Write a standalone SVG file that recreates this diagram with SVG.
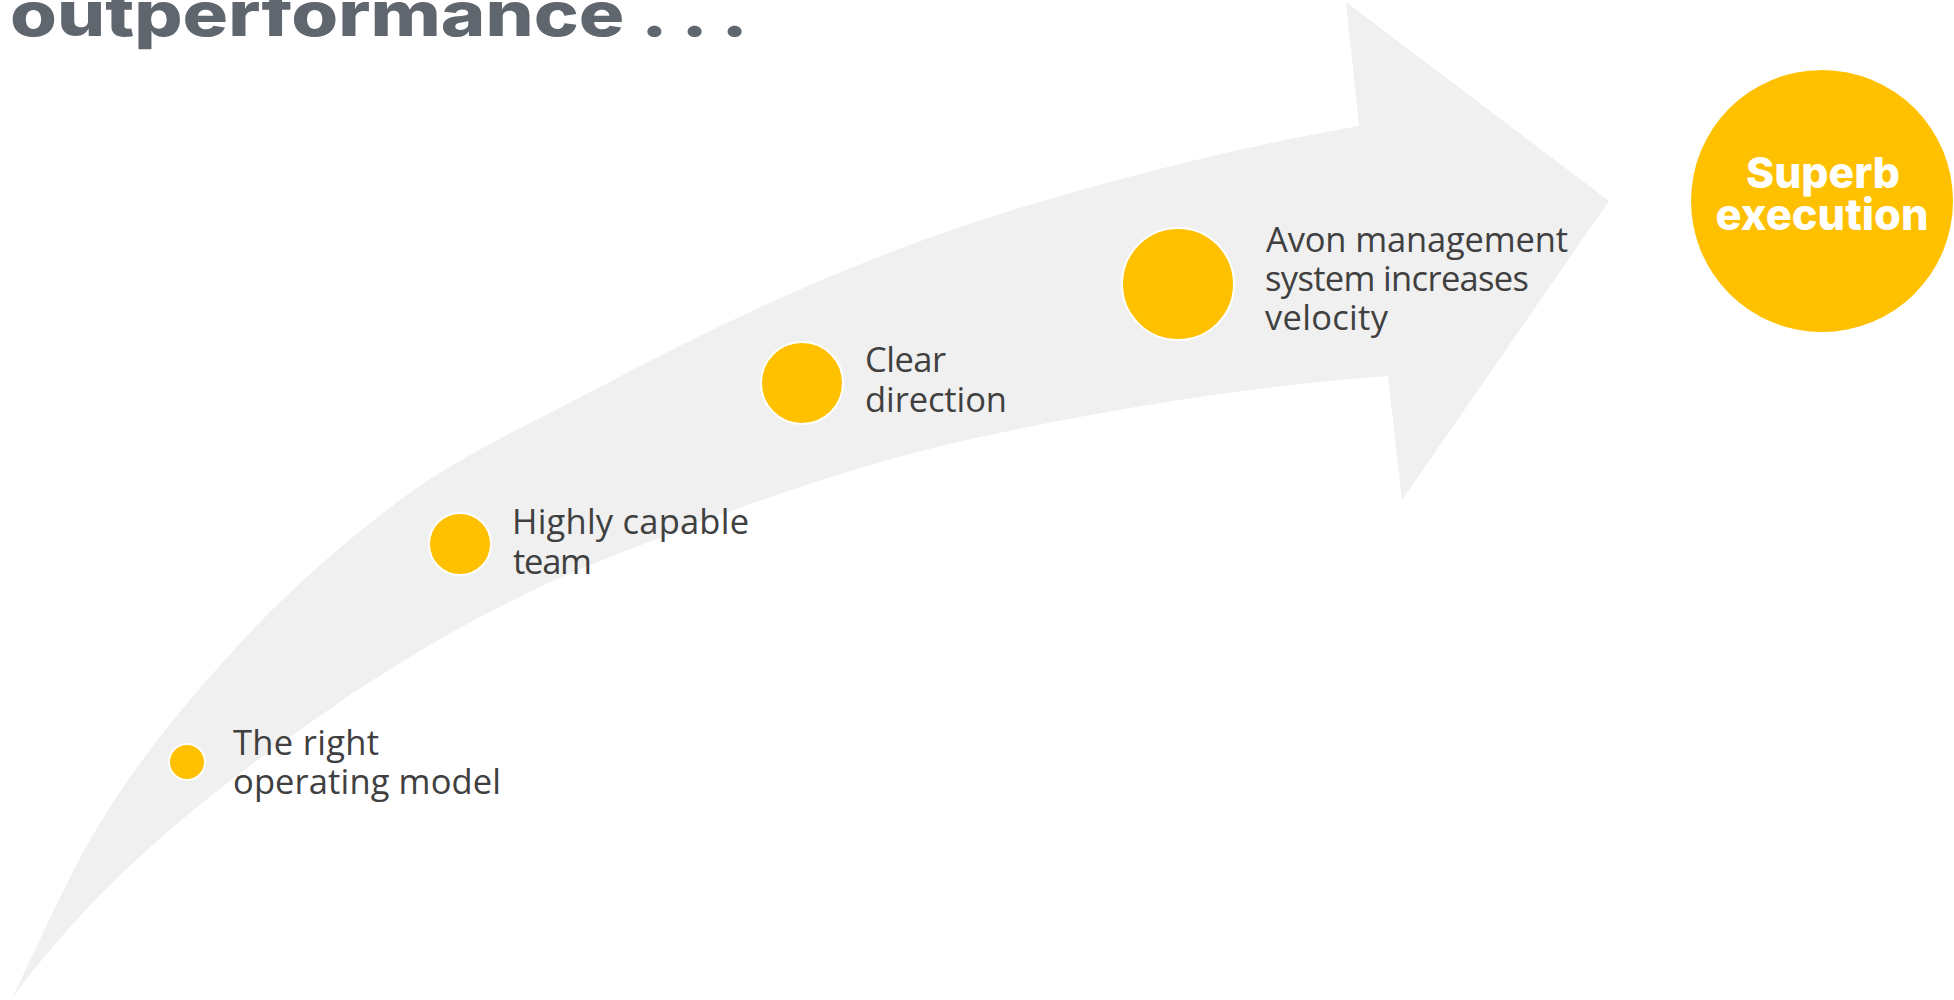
<svg xmlns="http://www.w3.org/2000/svg" width="1954" height="1000" viewBox="0 0 1954 1000">
  <style>
    .dot { fill: #ffc000; stroke: #ffffff; stroke-width: 2; }
    .lbl { font-family: "Open Sans", "Noto Sans", "Liberation Sans", sans-serif; font-size: 34.5px; fill: #404040; }
    .title { font-family: Inter, "Liberation Sans", sans-serif; font-weight: 800; font-size: 62px; fill: #5f666e; }
    .big { font-family: Inter, "Liberation Sans", sans-serif; font-weight: 800; font-size: 43px; fill: #ffffff; text-anchor: middle; }
  </style>
  <rect width="1954" height="1000" fill="#ffffff"/>

  <g id="title">
    <text class="title" x="10" y="36" textLength="738" lengthAdjust="spacingAndGlyphs">outperformance . . .</text>
  </g>

  <g id="arrow">
    <path fill="#f0f0f0" d="M 12,998 C 45,931 74,860 116,798 C 150,746 190,698 233,651 C 282,596 340,545 400,500 C 462,454 532,423 600,387 C 728,319 861.5,257 1000,214 C 1117,178 1238,147 1359,126 L 1346,2 L 1609,201 L 1402,500 L 1388,376 C 1251,386 1114,408 980,437 C 850,465 724,512 600,561 C 494,603 390,665 300,730 C 226,781 161,834 100,895 C 68,928 39,962 12,998 Z"/>
  </g>

  <g id="connectors"></g>

  <g id="node-operating-model">
    <circle class="dot" cx="187" cy="762" r="18"/>
    <text class="lbl" x="233" y="755" textLength="146">The right</text>
    <text class="lbl" x="233" y="794" textLength="268">operating model</text>
  </g>

  <g id="node-team">
    <circle class="dot" cx="460" cy="544" r="31"/>
    <text class="lbl" x="512" y="534" textLength="237">Highly capable</text>
    <text class="lbl" x="513" y="574" textLength="79">team</text>
  </g>

  <g id="node-direction">
    <circle class="dot" cx="802" cy="383" r="41"/>
    <text class="lbl" x="865" y="372" textLength="81">Clear</text>
    <text class="lbl" x="865" y="412" textLength="142">direction</text>
  </g>

  <g id="node-velocity">
    <circle class="dot" cx="1178" cy="284" r="56"/>
    <text class="lbl" x="1266" y="252" textLength="302">Avon management</text>
    <text class="lbl" x="1265" y="291" textLength="264">system increases</text>
    <text class="lbl" x="1265" y="330" textLength="123">velocity</text>
  </g>

  <g id="node-superb-execution">
    <circle cx="1822" cy="201" r="131" fill="#ffc000"/>
    <text class="big" x="1823" y="188" textLength="154" lengthAdjust="spacingAndGlyphs">Superb</text>
    <text class="big" x="1822" y="230" textLength="213" lengthAdjust="spacingAndGlyphs">execution</text>
  </g>
</svg>
